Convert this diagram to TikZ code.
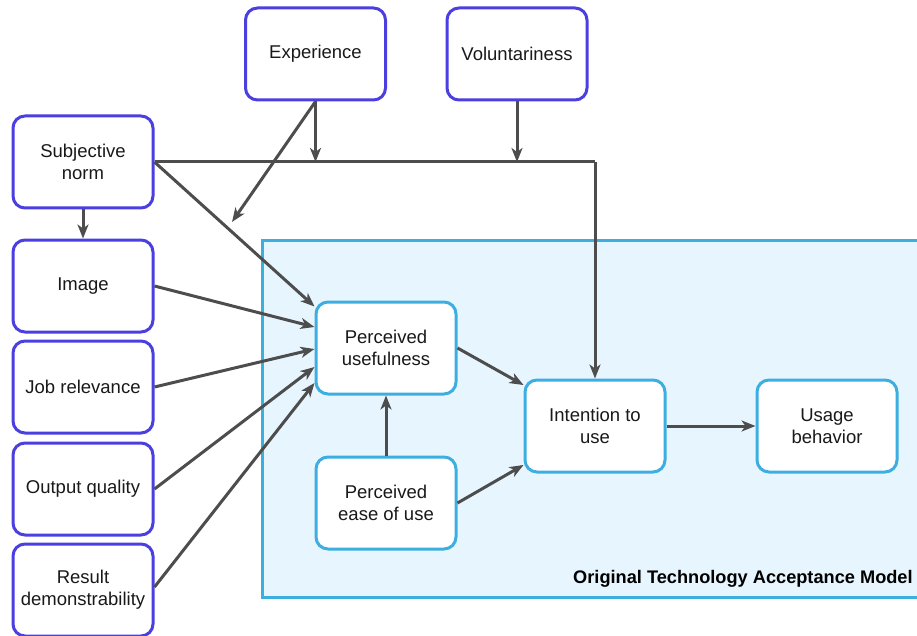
\documentclass[tikz,border=0pt]{standalone}
\usepackage{fontspec}
\setmainfont{Liberation Sans}
\usetikzlibrary{arrows.meta}
\definecolor{outerc}{HTML}{4B3FE0}
\definecolor{innerc}{HTML}{3DAEE0}
\definecolor{tamfill}{HTML}{E7F6FE}
\definecolor{linec}{HTML}{4D4D4D}
\tikzset{
  box/.style={draw, line width=3pt, rounded corners=12pt, fill=white,
    minimum width=140pt, minimum height=92pt, align=center,
    font=\fontsize{18.5}{22}\selectfont, text=black!90, inner sep=0pt},
  outer/.style={box, draw=outerc},
  inner/.style={box, draw=innerc},
  conn/.style={draw=linec, line width=3pt,
    -{Stealth[length=14pt, width=11pt, inset=4pt]}},
  plain/.style={draw=linec, line width=3pt}
}
\begin{document}
\begin{tikzpicture}[x=1pt, y=-1pt]
  \clip (0,0) rectangle (917,636);
  \useasboundingbox (0,0) rectangle (917,636);
  % TAM region
  \draw[draw=innerc, fill=tamfill, line width=3pt] (262,240) rectangle (960,597);
  \node[anchor=base west, font=\bfseries\fontsize{18.2}{22}\selectfont, inner sep=0pt]
    (tamtitle) at (573,583) {Original Technology Acceptance Model};

  % outer determinants
  \node[outer] (exp) at (315.5,54) {Experience};
  \node[outer] (vol) at (517,54) {Voluntariness};
  \node[outer] (sn) at (83,162) {Subjective\\norm};
  \node[outer] (img) at (83,286) {Image};
  \node[outer] (job) at (83,387) {Job relevance};
  \node[outer] (out) at (83,489) {Output quality};
  \node[outer] (res) at (83,590) {Result\\demonstrability};

  % TAM constructs
  \node[inner] (pu) at (386,348) {Perceived\\usefulness};
  \node[inner] (peou) at (386,503) {Perceived\\ease of use};
  \node[inner] (itu) at (595,426) {Intention to\\use};
  \node[inner] (ub) at (827,426) {Usage\\behavior};

  % moderators
  \coordinate (jexp) at (exp.south |- sn.east);
  \coordinate (jvol) at (vol.south |- sn.east);
  \coordinate (jitu) at (itu.north |- sn.east);
  \coordinate (expend) at (232,222);

  \draw[plain] (sn.east) -- (jitu);
  \draw[conn] (jitu) -- (itu.north);
  \draw[conn] (exp.south) -- (jexp);
  \draw[conn] (vol.south) -- (jvol);
  \draw[conn] (exp.south) -- (expend);

  % determinants of perceived usefulness
  \draw[conn] (sn.east) -- ([yshift=-6pt]pu.north west);
  \draw[conn] (sn.south) -- (img.north);
  \draw[conn] (img.east) -- ([yshift=21pt]pu.west);
  \draw[conn] (job.east) -- ([yshift=-1pt]pu.west);
  \draw[conn] (out.east) -- ([yshift=-19pt]pu.west);
  \draw[conn] ([yshift=3pt]res.east) -- ([yshift=-35pt]pu.west);

  % TAM relations
  \draw[conn] (pu.east) -- ([yshift=41pt]itu.west);
  \draw[conn] (peou.east) -- ([yshift=-39pt]itu.west);
  \draw[conn] (peou.north) -- (pu.south);
  \draw[conn] (itu.east) -- (ub.west);
\end{tikzpicture}
\end{document}
